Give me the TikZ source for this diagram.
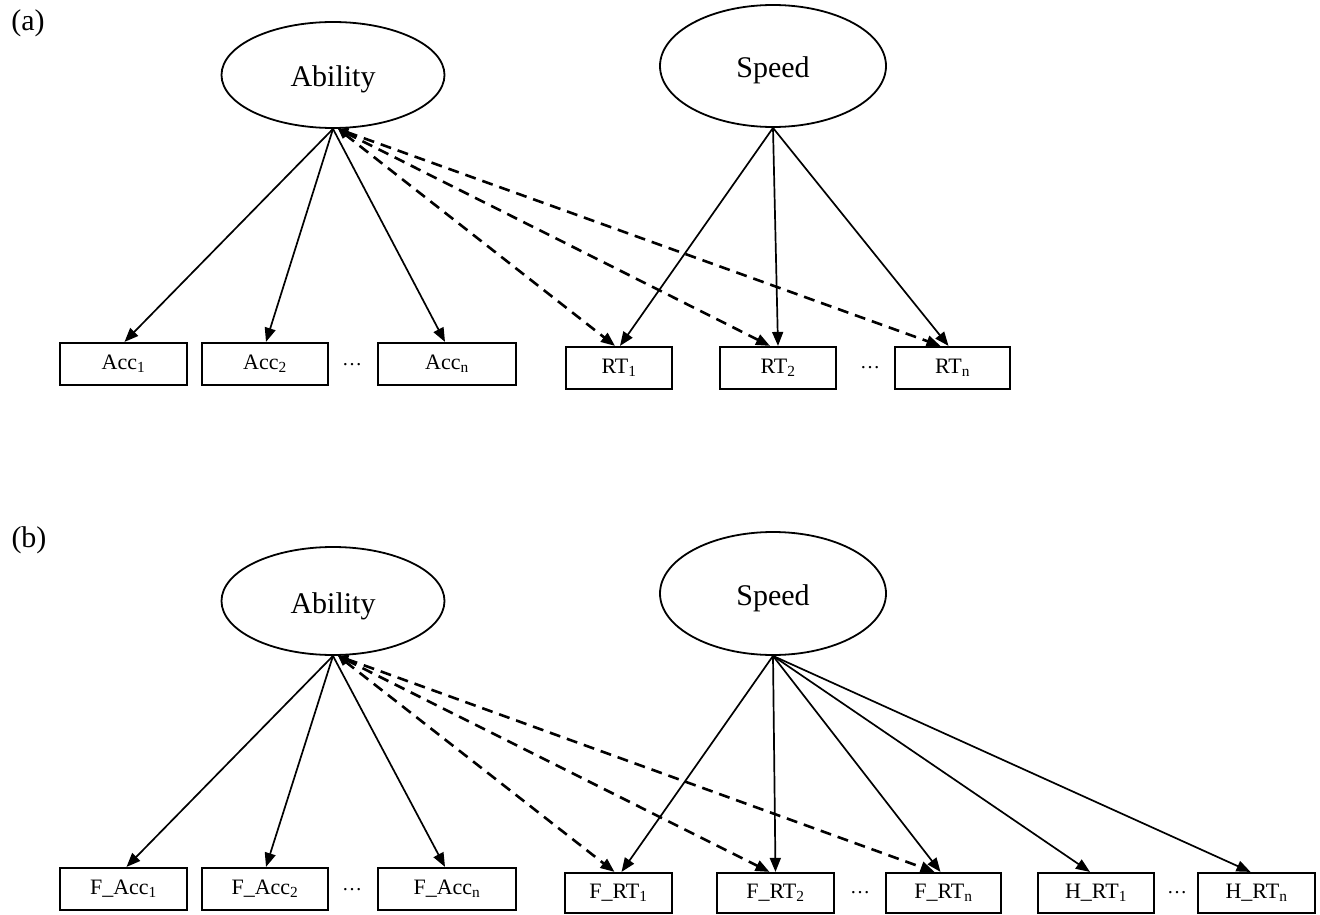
\documentclass[tikz,border=0pt]{standalone}
\usepackage{fontspec}
\setmainfont{Liberation Serif}
\usetikzlibrary{shapes.geometric,arrows.meta}
\begin{document}
\begin{tikzpicture}[x=1pt,y=-1pt,
  lat/.style={ellipse,draw,line width=1.8pt,inner sep=0pt,text height=30pt,text depth=6pt,font=\fontsize{30}{36}\selectfont},
  obs/.style={rectangle,draw,line width=2.2pt,inner sep=0pt,font=\fontsize{22}{26}\selectfont},
  load/.style={-{Triangle[length=14pt,width=11pt]},line width=1.7pt},
  cov/.style={{Triangle[length=10pt,width=9pt]}-{Triangle[length=14pt,width=11pt]},line width=2.6pt,dash pattern=on 11pt off 7pt},
  lbl/.style={font=\fontsize{30}{36}\selectfont,inner sep=0pt},
  dotsn/.style={font=\fontsize{20}{24}\selectfont,inner sep=0pt}]
\useasboundingbox (0,0) rectangle (1320,915);

% ---------- panel (a)
\node[lbl] (la) at (28,23) {(a)};
\node[lat,minimum width=223pt,minimum height=106pt] (A1) at (333,75) {Ability};
\node[lat,minimum width=226pt,minimum height=122pt] (S1) at (773,66) {Speed};

\node[obs,minimum width=127pt,minimum height=42pt] (a1) at (123.5,364) {Acc\textsubscript{1}};
\node[obs,minimum width=126pt,minimum height=42pt] (a2) at (265,364) {Acc\textsubscript{2}};
\node[dotsn] (ad) at (352,365) {…};
\node[obs,minimum width=138pt,minimum height=42pt] (an) at (447,364) {Acc\textsubscript{n}};
\node[obs,minimum width=106pt,minimum height=42pt] (r1) at (619,368) {RT\textsubscript{1}};
\node[obs,minimum width=116pt,minimum height=42pt] (r2) at (778,368) {RT\textsubscript{2}};
\node[dotsn] (rd) at (870,368) {…};
\node[obs,minimum width=115pt,minimum height=42pt] (rn) at (952.5,368) {RT\textsubscript{n}};

\draw[load] (A1.south) -- ([xshift=1pt]a1.north);
\draw[load] (A1.south) -- ([xshift=1pt]a2.north);
\draw[load] (A1.south) -- ([xshift=-2pt]an.north);
\draw[load] (S1.south) -- ([xshift=1pt]r1.north);
\draw[load] (S1.south) -- (r2.north);
\draw[load] (S1.south) -- ([xshift=-4pt]rn.north);
\draw[cov] ([xshift=5pt]A1.south) -- ([xshift=-4pt]r1.north);
\draw[cov] ([xshift=5pt]A1.south) -- ([xshift=-8pt]r2.north);
\draw[cov] ([xshift=5pt]A1.south) -- ([xshift=-12pt]rn.north);

% ---------- panel (b)
\node[lbl] (lb) at (29,540) {(b)};
\node[lat,minimum width=223pt,minimum height=108pt] (A2) at (333,601) {Ability};
\node[lat,minimum width=226pt,minimum height=123pt] (S2) at (773,593.5) {Speed};

\node[obs,minimum width=127pt,minimum height=42pt] (b1) at (123.5,889) {F\_Acc\textsubscript{1}};
\node[obs,minimum width=126pt,minimum height=42pt] (b2) at (265,889) {F\_Acc\textsubscript{2}};
\node[dotsn] (bd) at (352,890) {…};
\node[obs,minimum width=138pt,minimum height=42pt] (bn) at (447,889) {F\_Acc\textsubscript{n}};
\node[obs,minimum width=107pt,minimum height=40pt] (f1) at (618.5,893) {F\_RT\textsubscript{1}};
\node[obs,minimum width=117pt,minimum height=40pt] (f2) at (775.5,893) {F\_RT\textsubscript{2}};
\node[dotsn] (fd) at (860,893) {…};
\node[obs,minimum width=115pt,minimum height=40pt] (fn) at (943.5,893) {F\_RT\textsubscript{n}};
\node[obs,minimum width=116pt,minimum height=40pt] (h1) at (1096,893) {H\_RT\textsubscript{1}};
\node[dotsn] (hd) at (1177,893) {…};
\node[obs,minimum width=117pt,minimum height=40pt] (hn) at (1256.5,893) {H\_RT\textsubscript{n}};

\draw[load] (A2.south) -- ([xshift=3pt]b1.north);
\draw[load] (A2.south) -- ([xshift=1pt]b2.north);
\draw[load] (A2.south) -- ([xshift=-2pt]bn.north);
\draw[load] (S2.south) -- ([xshift=3pt]f1.north);
\draw[load] (S2.south) -- (f2.north);
\draw[load] (S2.south) -- ([xshift=-3pt]fn.north);
\draw[load] (S2.south) -- ([xshift=-6pt]h1.north);
\draw[load] (S2.south) -- ([xshift=-6pt]hn.north);
\draw[cov] ([xshift=5pt]A2.south) -- ([xshift=-4pt]f1.north);
\draw[cov] ([xshift=5pt]A2.south) -- ([xshift=-6pt]f2.north);
\draw[cov] ([xshift=5pt]A2.south) -- ([xshift=-9pt]fn.north);
\end{tikzpicture}
\end{document}
